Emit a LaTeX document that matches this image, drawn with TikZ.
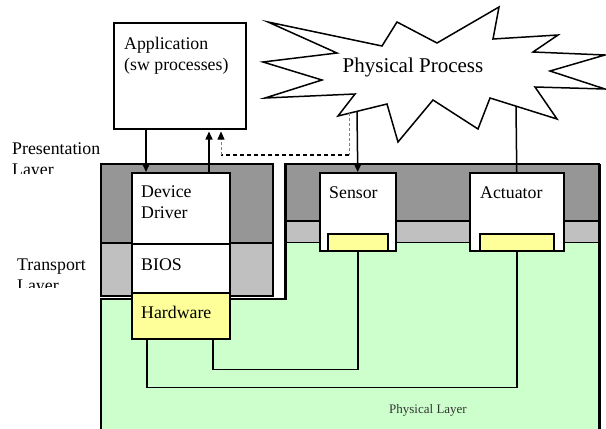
\documentclass[tikz,border=0pt]{standalone}
\usepackage{fontspec}
\setmainfont{Liberation Serif}
\usetikzlibrary{arrows.meta,calc,positioning}

\definecolor{darkband}{RGB}{150,150,150}
\definecolor{lightband}{RGB}{192,192,192}
\definecolor{physgreen}{RGB}{204,255,204}
\definecolor{hwyellow}{RGB}{255,255,153}

\begin{document}
\begin{tikzpicture}[x=1pt,y=-1pt,
  every node/.style={font=\fontsize{17.8}{21}\selectfont},
  box/.style={draw,line width=1.5pt,fill=white,inner sep=0pt,anchor=north west},
  chip/.style={box,fill=hwyellow},
  lbl/.style={anchor=base west,inner sep=0pt,align=left},
  sig/.style={-{Triangle[length=8pt,width=7pt]},line width=1.5pt},
  wire/.style={line width=1.5pt},
  hint/.style={gray,line width=.6pt,dash pattern=on 3pt off 2pt}]

    \useasboundingbox (0,0) rectangle (606,429);

    % physical layer
    \fill[physgreen] (101,299) -- (285,299) -- (285,242) -- (599,242)
        -- (599,432) -- (101,432) -- cycle;
    \draw[line width=1.6pt] (101,432) -- (101,299) -- (285,299);

    % field side: presentation and transport bands
    \fill[darkband] (285,164) rectangle (599,221);
    \fill[lightband] (285,221) rectangle (599,242);
    \draw[line width=2.5pt] (285,221) -- (599,221);
    \draw[line width=1pt] (285,242) -- (599,242);
    \draw[line width=2.5pt] (284,164) -- (600,164);
    \draw[line width=3pt] (285,164) -- (285,300);
    \draw[line width=3pt] (599,164) -- (599,432);

    % host side: presentation and transport bands
    \fill[darkband] (101,164) rectangle (273,243);
    \fill[lightband] (101,243) rectangle (273,296);
    \draw[line width=1.5pt] (101,164) rectangle (273,296);
    \draw[line width=1.5pt] (101,243) -- (273,243);

    % boxes
    \node[box,minimum width=98pt,minimum height=71pt] (driver) at (131,172) {};
    \node[box,minimum width=98pt,minimum height=49pt] (bios) at (131,243) {};
    \node[chip,minimum width=98pt,minimum height=46pt] (hw) at (131,292) {};
    \node[box,minimum width=76pt,minimum height=78pt] (sensor) at (319,172) {};
    \node[box,minimum width=94pt,minimum height=78pt] (actuator) at (469,172) {};
    \node[chip,minimum width=60pt,minimum height=17pt] (sensChip) at (327,233) {};
    \node[chip,minimum width=74pt,minimum height=17pt] (actChip) at (479,233) {};
    \node[box,minimum width=132pt,minimum height=106pt] (app) at (113,22) {};

    % base of a two-line label is its last line
    \node[lbl] (appTxt) at ($(app.north west)+(11,48)$) {Application\\(sw processes)};
    \node[lbl] (drvTxt) at ($(driver.north west)+(10,46)$) {Device\\Driver};
    \node[lbl] (biosTxt) at ($(bios.north west)+(10,27)$) {BIOS};
    \node[lbl] (hwTxt) at ($(hw.north west)+(10,26)$) {Hardware};
    \node[lbl] (sensTxt) at ($(sensor.north west)+(10,26)$) {Sensor};
    \node[lbl] (actTxt) at ($(actuator.north west)+(11,26)$) {Actuator};

    % layer names, cut off at the bottom
    \begin{scope}
        \clip (0,130) rectangle (100,173);
        \node[lbl] (presTxt) at (12,175) {Presentation\\Layer};
    \end{scope}
    \begin{scope}
        \clip (0,250) rectangle (100,287);
        \node[lbl] (transTxt) at (17,291) {Transport\\Layer};
    \end{scope}
    \node[anchor=base,inner sep=0pt,text=black!80,font=\fontsize{13}{15}\selectfont]
        (physTxt) at (428,413) {Physical Layer};

    % physical process
    \draw[line width=1.5pt,fill=white] (268,22) -- (382,46) -- (397,22) -- (437,43)
        -- (499,7) -- (493,39) -- (558,35) -- (533,52) -- (605,55) -- (550,71)
        -- (605,89) -- (535,87) -- (557,119) -- (490,98) -- (478,129) -- (433,100)
        -- (398,142) -- (387,104) -- (338,116) -- (355,94) -- (265,98) -- (322,80)
        -- (263,62) -- (337,53) -- cycle;
    \node[anchor=base,inner sep=0pt,font=\fontsize{21}{24}\selectfont]
        (procTxt) at (413,72) {Physical Process};
    \coordinate (starS) at (357,111);
    \coordinate (starD) at (349,113);
    \coordinate (starA) at (516,106);

    % connectors
    \draw[sig] ([xshift=33pt]app.south west) -- ([xshift=33pt]app.south west |- driver.north);
    \draw[sig,shorten >=2pt] ([xshift=78pt]driver.north west) -- ([xshift=78pt]driver.north west |- app.south);
    \coordinate (dashR) at (349,155);
    \coordinate (dashL) at (221,155);
    \draw[hint] (starD) -- (dashR);
    \draw[line width=1.4pt,dash pattern=on 4pt off 3pt] (dashR) -- (dashL);
    \draw[hint,-{Triangle[length=8pt,width=7pt,black]},shorten >=2pt] (dashL) -- (dashL |- app.south);
    \draw[sig] (starS) -- (sensor.north);
    \draw[wire] (starA) -- (actuator.north);

    \draw[wire] ([xshift=82pt]hw.south west) -- ++(0,30) -| (sensChip.south);
    \draw[wire] ([xshift=16pt]hw.south west) -- ++(0,48) -| (actChip.south);
\end{tikzpicture}
\end{document}
